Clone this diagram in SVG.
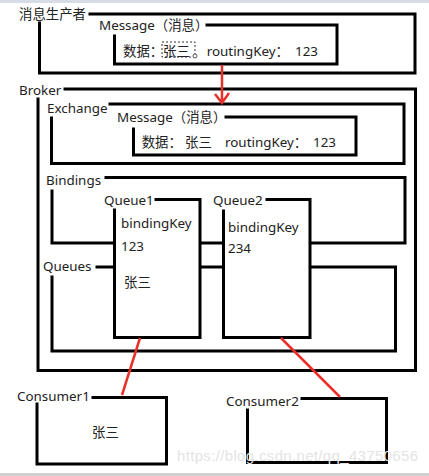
<svg xmlns="http://www.w3.org/2000/svg" width="429" height="476" viewBox="0 0 429 476">
<style>
.b{fill:none;stroke:#000;stroke-width:3;stroke-linecap:square}
.t{font-family:"Noto Sans","Noto Sans CJK SC",sans-serif;font-size:13.4px;fill:#222}
.r{fill:none;stroke:#e8302a;stroke-width:2.5}
.w{font-family:"Liberation Sans",Arial,sans-serif;font-size:15px;fill:#e4e4e4}
</style>
<rect width="429" height="476" fill="#fff"/>
<rect width="429" height="3" fill="#d6dde6"/>
<rect y="473" width="429" height="3" fill="#d0d0d0"/>
<g id="producer">
<text class="t" x="19" y="18.5">消息生产者</text>
<path class="b" d="M90,14 H415 V73 H39.5 V23"/>
</g>
<g id="producer-message">
<text class="t" x="99" y="30">Message（消息）</text>
<path class="b" d="M207,25 H337 V64 H114.5 V36"/>
<text class="t" y="56"><tspan x="123">数据：</tspan><tspan x="163">张三</tspan><tspan x="206.7">routingKey：</tspan><tspan x="295">123</tspan></text>
<rect x="162" y="42" width="33" height="15" fill="none" stroke="#333" stroke-width="1" stroke-dasharray="2,2"/>
<circle cx="195" cy="56" r="2" fill="#fff" stroke="#555" stroke-width="1"/>
</g>
<g id="broker">
<text class="t" x="19" y="95">Broker</text>
<path class="b" d="M65,89 H415.5 V370.5 H38 V99"/>
</g>
<g id="exchange">
<text class="t" x="47" y="112.5">Exchange</text>
<path class="b" d="M110,104 H404 V163.5 H51.5 V118"/>
</g>
<g id="exchange-message">
<text class="t" x="117" y="121.7">Message（消息）</text>
<path class="b" d="M226,117 H356 V155 H133.5 V129"/>
<text class="t" y="147"><tspan x="141.7">数据：</tspan><tspan x="185">张三</tspan><tspan x="225">routingKey：</tspan><tspan x="313">123</tspan></text>
</g>
<g id="bindings">
<text class="t" x="46" y="185">Bindings</text>
<path class="b" d="M106,177.5 H405 V243 H52 V191"/>
</g>
<g id="queues">
<text class="t" x="43" y="270.7">Queues</text>
<path class="b" d="M97,267 H395.5 V351 H52 V277"/>
</g>
<g id="queue1">
<rect x="114.5" y="199.5" width="85.5" height="138" fill="#fff"/>
<path class="b" d="M156,199.5 H200 V337.5 H114.5 V210"/>
<text class="t" x="104" y="205">Queue1</text>
<text class="t" x="121" y="228.3">bindingKey</text>
<text class="t" x="121" y="250.7">123</text>
<text class="t" x="124" y="286.7">张三</text>
</g>
<g id="queue2">
<rect x="223.5" y="199.5" width="86.5" height="138" fill="#fff"/>
<path class="b" d="M267,199.5 H310 V337.5 H223.5 V211"/>
<text class="t" x="213" y="205">Queue2</text>
<text class="t" x="228" y="231.7">bindingKey</text>
<text class="t" x="228" y="253.3">234</text>
</g>
<g id="consumer1">
<text class="t" x="17" y="400.7">Consumer1</text>
<path class="b" d="M93,397.5 H166.5 V464 H37 V404"/>
<text class="t" x="92" y="437.3">张三</text>
</g>
<g id="consumer2">
<text class="t" x="226" y="405.7">Consumer2</text>
<path class="b" d="M302,398.5 H386.5 V462.5 H247.5 V410"/>
</g>
<g id="connectors">
<path class="r" d="M222,65 V103 M215,94 L222,103 L229,93"/>
<path class="r" d="M140,338 L122,395"/>
<path class="r" d="M281,338 L340,397"/>
</g>
<text class="w" x="177" y="461" textLength="241">https://blog.csdn.net/qq_43750656</text>
</svg>
